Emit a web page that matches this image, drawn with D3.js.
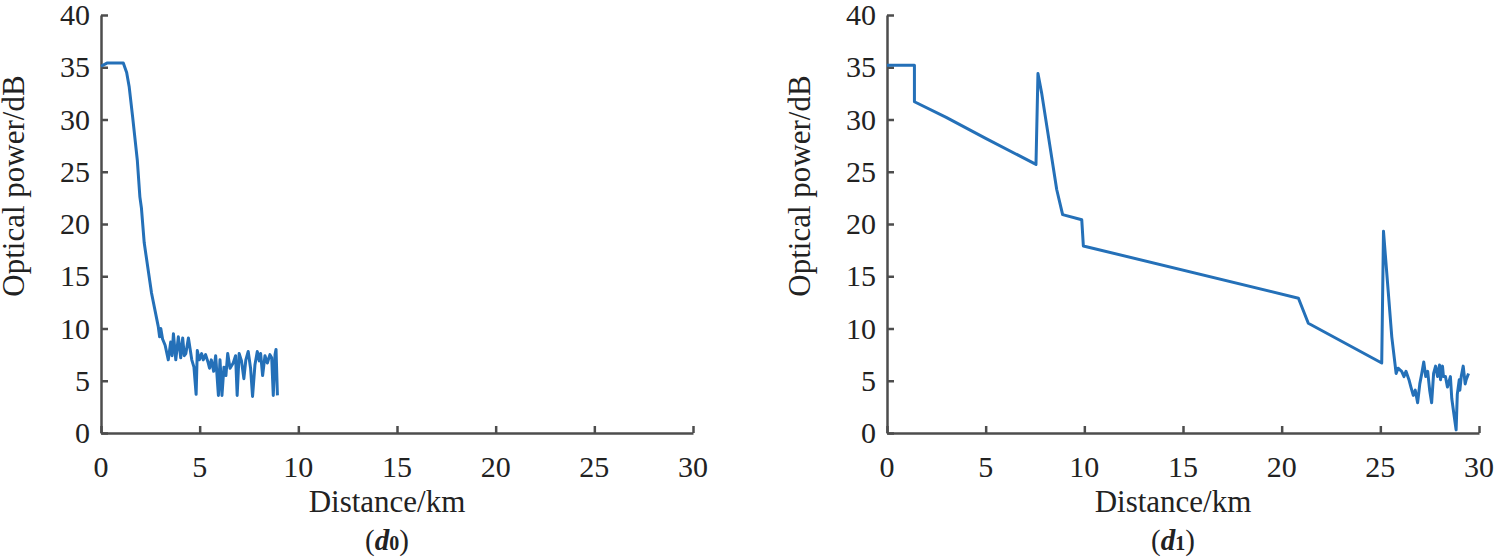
<!DOCTYPE html>
<html>
<head>
<meta charset="utf-8">
<script src="https://cdnjs.cloudflare.com/ajax/libs/d3/7.8.5/d3.min.js"></script>
<style>
  body { margin: 0; background: #fff; }
</style>
</head>
<body>
<svg id="chart" width="1500" height="559"></svg>
<script>
const xTicks = [0, 5, 10, 15, 20, 25, 30];
const yTicks = [0, 5, 10, 15, 20, 25, 30, 35, 40];

// (d0) trace
const d0Distance = [0, 0.3, 1.13, 1.3, 1.43, 1.6, 1.84, 1.97, 2.05, 2.19, 2.56, 2.9, 2.97, 3.03, 3.12, 3.25,
  3.41, 3.53, 3.6, 3.67, 3.79, 3.92, 4.04, 4.14, 4.22, 4.3, 4.43, 4.6, 4.71, 4.82, 4.88, 4.98, 5.1, 5.18,
  5.3, 5.42, 5.5, 5.59, 5.71, 5.81, 5.95, 6.03, 6.13, 6.23, 6.33, 6.42, 6.54, 6.7, 6.82, 6.9, 7.0, 7.12,
  7.24, 7.34, 7.46, 7.58, 7.68, 7.8, 7.92, 8.02, 8.09, 8.19, 8.31, 8.43, 8.56, 8.65, 8.73, 8.82, 8.87, 8.94];
const d0Power = [35.1, 35.4, 35.4, 34.5, 33.1, 30.3, 26.1, 22.6, 21.5, 18.2, 13.4, 10.2, 9.2, 10.0, 9.0, 8.4,
  7.0, 8.7, 7.4, 9.5, 7.0, 9.2, 7.2, 9.1, 7.4, 7.6, 9.1, 7.0, 6.3, 3.7, 7.9, 7.0, 7.6, 7.0,
  7.5, 6.8, 6.2, 7.0, 5.9, 7.4, 3.6, 7.0, 3.6, 6.3, 5.5, 7.6, 6.2, 6.7, 7.4, 3.6, 7.6, 6.9,
  5.2, 7.0, 7.8, 6.2, 3.5, 6.5, 7.8, 6.9, 7.6, 5.5, 7.4, 6.7, 7.5, 7.2, 3.6, 7.5, 8.0, 3.6];

// (d1) trace
const d1Distance = [0, 1.39, 1.39, 3, 5, 7.55, 7.65, 7.84, 8.6, 8.9, 9.87, 9.95, 20.85, 21.35, 25.07, 25.16,
  25.58, 25.8, 25.9, 26.08, 26.2, 26.3, 26.45, 26.55, 26.67, 26.77, 26.89, 27.0, 27.1, 27.2, 27.3, 27.4,
  27.5, 27.6, 27.7, 27.8, 27.9, 28.0, 28.05, 28.15, 28.2, 28.3, 28.4, 28.55, 28.62, 28.7, 28.84, 28.9,
  29.0, 29.03, 29.1, 29.2, 29.3, 29.35, 29.47];
const d1Power = [35.2, 35.2, 31.7, 30.2, 28.2, 25.7, 34.4, 32.5, 23.3, 20.9, 20.4, 17.9, 12.9, 10.5, 6.7, 19.3,
  9.2, 5.7, 6.2, 5.9, 5.4, 5.9, 5.1, 4.4, 3.6, 4.1, 2.9, 4.7, 5.7, 6.8, 5.4, 5.9,
  4.1, 2.9, 5.7, 6.4, 5.4, 6.5, 5.1, 6.4, 5.4, 5.4, 4.4, 5.4, 3.3, 2.2, 0.3, 3.7,
  5.1, 4.1, 5.4, 6.4, 4.7, 5.1, 5.7];

const panels = [
  { left: 101, label: "0", dist: d0Distance, power: d0Power },
  { left: 887, label: "1", dist: d1Distance, power: d1Power }
];

const plotW = 592, plotTop = 15, plotBottom = 433;
const axisColor = "#4d4d4d";
const serif = "'Liberation Serif', 'DejaVu Serif', serif";
const svg = d3.select("#chart");

panels.forEach(p => {
  const x = d3.scaleLinear().domain([0, 30]).range([p.left, p.left + plotW]);
  const y = d3.scaleLinear().domain([0, 40]).range([plotBottom, plotTop]);

  const g = svg.append("g")
    .attr("font-family", serif)
    .attr("fill", "#222");

  // x axis (ticks point inward)
  const xa = g.append("g")
    .attr("transform", `translate(0,${plotBottom})`)
    .call(d3.axisTop(x).tickValues(xTicks).tickSize(7).tickSizeOuter(0).tickFormat(""));
  g.selectAll(".xlab").data(xTicks).enter().append("text")
    .attr("x", d => x(d)).attr("y", plotBottom + 44)
    .attr("text-anchor", "middle").attr("font-size", 30)
    .attr("font-family", serif)
    .text(d => d);

  // y axis
  const ya = g.append("g")
    .attr("transform", `translate(${p.left},0)`)
    .call(d3.axisRight(y).tickValues(yTicks).tickSize(7).tickSizeOuter(0).tickFormat(""));
  g.selectAll(".ylab").data(yTicks).enter().append("text")
    .attr("x", p.left - 11).attr("y", d => y(d) + 10)
    .attr("text-anchor", "end").attr("font-size", 30)
    .attr("font-family", serif)
    .text(d => d);

  [xa, ya].forEach(a => {
    a.select(".domain").attr("stroke", axisColor).attr("stroke-width", 2.5);
    a.selectAll(".tick line").attr("stroke", axisColor).attr("stroke-width", 2.5);
  });

  // line
  const pts = p.dist.map((d, i) => [d, p.power[i]]);
  g.append("path")
    .datum(pts)
    .attr("fill", "none")
    .attr("stroke", "#2470b8")
    .attr("stroke-width", 3)
    .attr("stroke-linejoin", "round")
    .attr("d", d3.line().x(d => x(d[0])).y(d => y(d[1])));

  // labels
  const cx = p.left + 286;
  g.append("text")
    .attr("x", cx).attr("y", 512)
    .attr("text-anchor", "middle").attr("font-size", 31)
    .attr("font-family", serif)
    .text("Distance/km");

  const sub = g.append("text")
    .attr("x", cx).attr("y", 550)
    .attr("text-anchor", "middle").attr("font-size", 29)
    .attr("font-family", serif);
  sub.append("tspan").text("(");
  sub.append("tspan").attr("font-weight", "bold").attr("font-style", "italic").text("d");
  sub.append("tspan").attr("font-weight", "bold").attr("font-size", 20).text(p.label);
  sub.append("tspan").text(")");

  g.append("text")
    .attr("transform", `translate(${p.left - 77},186) rotate(-90)`)
    .attr("text-anchor", "middle").attr("font-size", 31)
    .attr("font-family", serif)
    .text("Optical power/dB");
});
</script>
</body>
</html>
